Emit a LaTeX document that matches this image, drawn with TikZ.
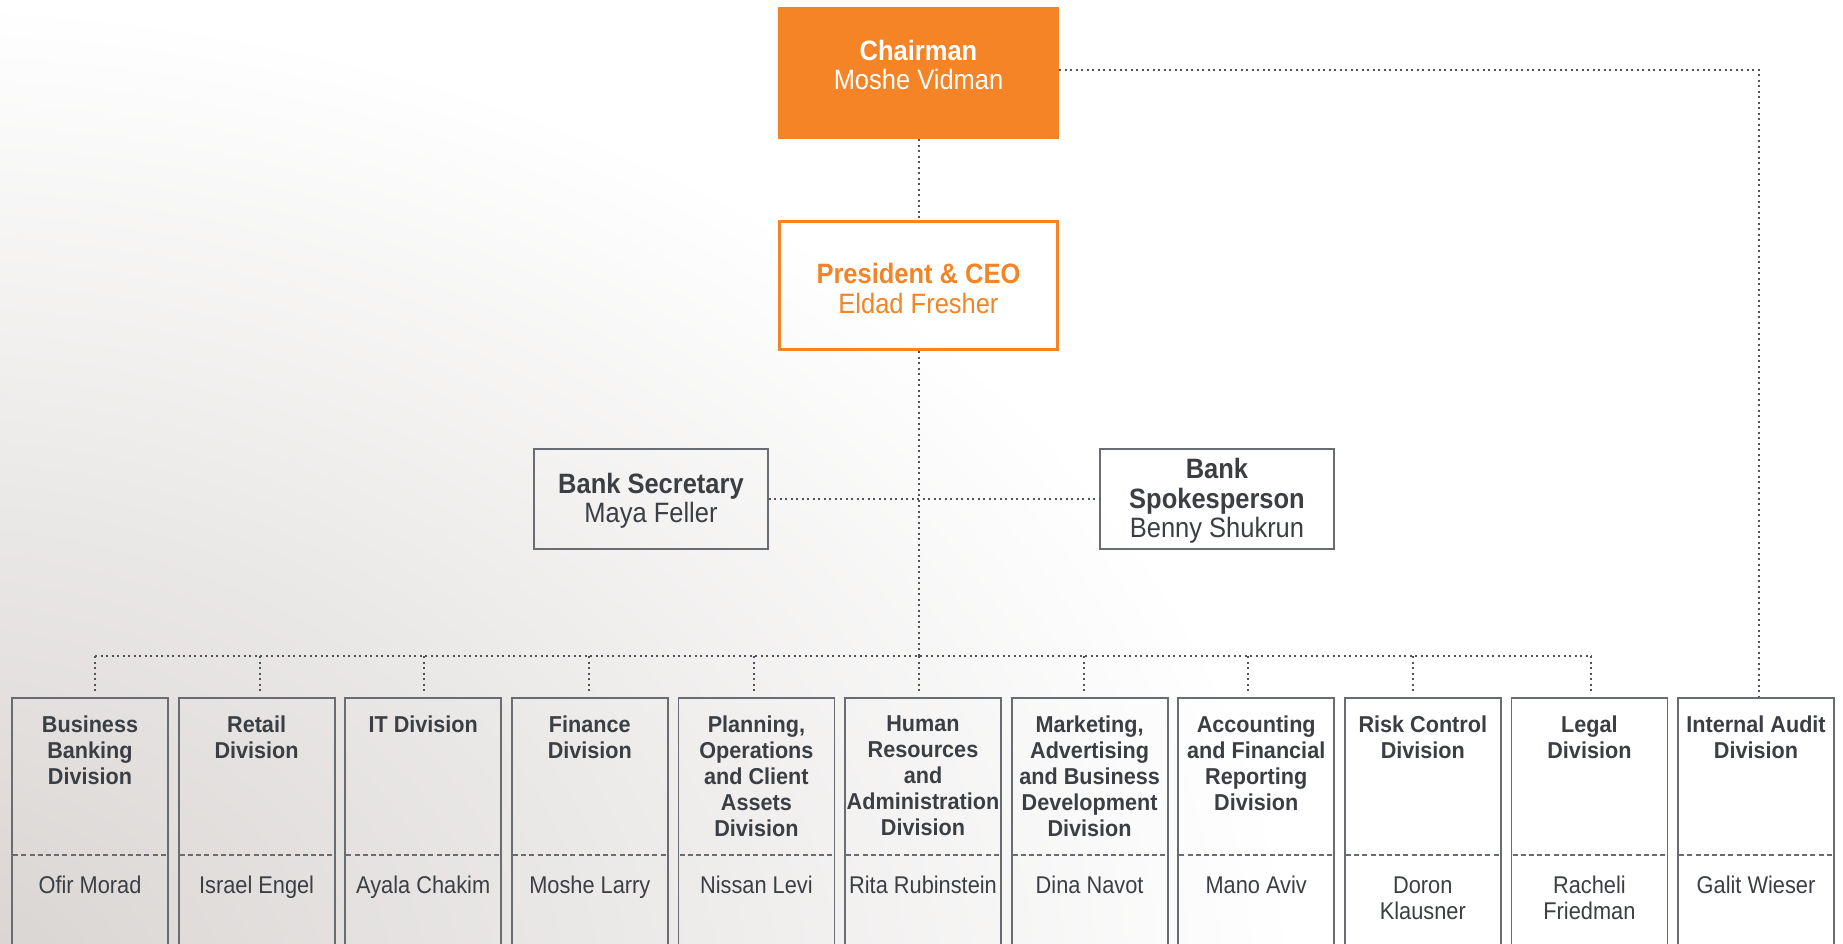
\documentclass[tikz,border=0pt]{standalone}
\usepackage{fontspec}
\setmainfont{Liberation Sans}
\newfontfamily\topfont[FakeStretch=0.91]{Liberation Sans}
\newfontfamily\divfont[FakeStretch=0.94]{Liberation Sans}
\newfontfamily\namefont[FakeStretch=0.9]{Liberation Sans}
\usetikzlibrary{calc}
\definecolor{orng}{RGB}{244,132,38}
\definecolor{txt}{RGB}{59,63,68}
\definecolor{edgec}{RGB}{105,109,113}
\definecolor{dotc}{RGB}{80,85,90}
\definecolor{bgray}{RGB}{214,210,208}
\begin{document}
\begin{tikzpicture}[x=0.5pt,y=-0.5pt,
  conn/.style={draw=dotc, line width=1pt, dash pattern=on 1pt off 1.75pt},
  topbox/.style={draw=edgec, line width=0.9pt, minimum width=117pt, minimum height=50pt, inner sep=0pt},
  toptext/.style={text=txt, align=center, font=\topfont\fontsize{14}{14.7}\selectfont, inner sep=0pt},
  divbox/.style={draw=edgec, line width=0.9pt, minimum width=78pt, minimum height=131.5pt, anchor=north, inner sep=0pt},
  divtitle/.style={text=txt, align=center, font=\divfont\bfseries\fontsize{11.5}{13}\selectfont, anchor=north, inner sep=0pt},
  divname/.style={text=txt, align=center, font=\namefont\fontsize{12.1}{13}\selectfont, anchor=north, inner sep=0pt},
  sepline/.style={draw=edgec, line width=0.6pt, dash pattern=on 2.5pt off 1.6pt}
]
\useasboundingbox (0,0) rectangle (1843,943);
\clip (0,0) rectangle (1843,943);
\fill[white] (0,0) rectangle (1843,943);
\shade[inner color=bgray, outer color=white] (-1500,0) rectangle (1300,2000);

% top nodes
\node[fill=orng, minimum width=140.5pt, minimum height=66pt, inner sep=0pt] (chair) at (918.5,73) {};
\node[toptext, text=white] (chairT) at ([yshift=4pt]chair.center) {\textbf{Chairman}\\Moshe Vidman};
\node[draw=orng, line width=1.5pt, minimum width=139pt, minimum height=64pt, inner sep=0pt] (ceo) at (918.5,285.5) {};
\node[toptext, text=orng] (ceoT) at ([yshift=-1.5pt]ceo.center) {\textbf{President \& CEO}\\Eldad Fresher};
\node[topbox] (sec) at (651,499) {};
\node[toptext] (secT) at ([yshift=-1pt]sec.center) {\textbf{Bank Secretary}\\Maya Feller};
\node[topbox] (spok) at (1217,499) {};
\node[toptext] (spokT) at ([yshift=-1pt]spok.center) {\textbf{Bank}\\\textbf{Spokesperson}\\Benny Shukrun};

% division boxes
\coordinate (busM) at (918.5,656);
\coordinate (sepy) at (0,855);
\foreach \i/\t/\n in {
 0/{Business\\Banking\\Division}/{Ofir Morad},
 1/{Retail\\Division}/{Israel Engel},
 2/{IT Division}/{Ayala Chakim},
 3/{Finance\\Division}/{Moshe Larry},
 4/{Planning,\\Operations\\and Client\\Assets\\Division}/{Nissan Levi},
 5/{Human\\Resources\\and\\Administration\\Division}/{Rita Rubinstein},
 6/{Marketing,\\Advertising\\and Business\\Development\\Division}/{Dina Navot},
 7/{Accounting\\and Financial\\Reporting\\Division}/{Mano Aviv},
 8/{Risk Control\\Division}/{Doron\\Klausner},
 9/{Legal\\Division}/{Racheli\\Friedman},
 10/{Internal Audit\\Division}/{Galit Wieser}}{
  \pgfmathsetmacro{\cx}{90+166.6*\i}
  \node[divbox] (d\i) at (\cx,697) {};
  \node[divtitle] (t\i) at (\cx,715) {\t};
  \node[divname] (n\i) at (\cx,876) {\n};
  \draw[sepline] ([xshift=1pt]d\i.west |- sepy) -- ([xshift=-1pt]d\i.east |- sepy);
}

% connectors
\draw[conn] (chair.south) -- (ceo.north);
\draw[conn] (ceo.south) -- (busM);
\draw[conn] (sec.east) -- (spok.west);
\draw[conn] ([xshift=2.5pt]d0.north |- busM) -- ([xshift=1pt]d9.north |- busM);
\foreach \i/\dx in {0/2.5,1/1.5,2/0.5,3/-0.5,4/-1,5/-2,6/-3,7/-4,8/-5,9/1}{
  \draw[conn] ([xshift=\dx pt]d\i.north |- busM) -- ([xshift=\dx pt, yshift=3pt]d\i.north);
}
\draw[conn] ([yshift=1.5pt]chair.east) -| ([xshift=1.5pt]d10.north);
\end{tikzpicture}
\end{document}
